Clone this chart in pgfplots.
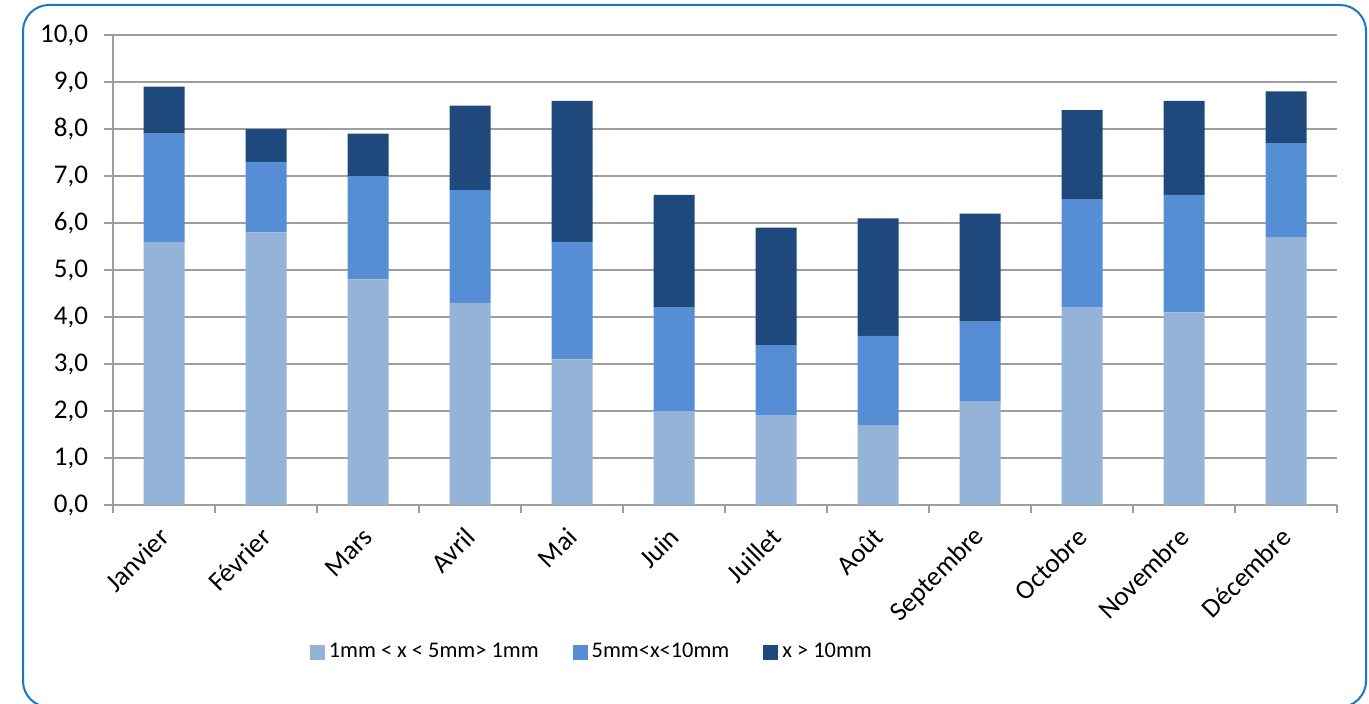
\documentclass[border=0pt]{standalone}
\usepackage{pgfplots}
\pgfplotsset{compat=1.18}
\usepackage{pgfplotstable}
\usepackage{fontspec}
\setmainfont{Carlito}
\definecolor{cA}{HTML}{95B3D7}
\definecolor{cB}{HTML}{558ED5}
\definecolor{cC}{HTML}{1F497D}
\definecolor{frame}{RGB}{25,118,200}
\definecolor{gridc}{HTML}{9E9E9E}
\pgfplotstableread{
x a b c
0 5.6 2.3 1.0
1 5.8 1.5 0.7
2 4.8 2.2 0.9
3 4.3 2.4 1.8
4 3.1 2.5 3.0
5 2.0 2.2 2.4
6 1.9 1.5 2.5
7 1.7 1.9 2.5
8 2.2 1.7 2.3
9 4.2 2.3 1.9
10 4.1 2.5 2.0
11 5.7 2.0 1.1
}\data
\begin{document}
\begin{tikzpicture}
\useasboundingbox (0,0) rectangle (684.5pt,351.5pt);
\draw[frame, line width=1pt, rounded corners=13pt] (11.5pt,-2pt) rectangle (683pt,349pt);
\begin{axis}[
  at={(56.5pt,99pt)}, anchor=south west,
  scale only axis, width=612pt, height=235pt,
  ybar stacked, bar width=20.5pt,
  xmin=-0.5, xmax=11.5, ymin=0, ymax=10,
  axis x line=bottom, axis y line=left,
  axis line style={gridc, line width=0.8pt, -},
  xtick=data,
  xticklabels={Janvier,Février,Mars,Avril,Mai,Juin,Juillet,Août,Septembre,Octobre,Novembre,Décembre},
  major x tick style={draw=none},
  minor xtick={-0.5,0.5,...,11.5},
  minor tick length=4pt,
  minor x tick style={gridc, line width=0.8pt},
  ytick={0,1,...,10},
  major tick length=4.5pt,
  tick align=outside,
  y tick style={gridc, line width=0.8pt},
  ymajorgrids, grid style={gridc, line width=0.8pt},
  xticklabel style={xshift=1pt, yshift=-8.5pt, rotate=45, anchor=east, font=\fontsize{13.5}{14}\selectfont, inner sep=1pt},
  yticklabel style={font=\fontsize{13.5}{14}\selectfont, xshift=-4.5pt},
  /pgf/number format/.cd, fixed, fixed zerofill, precision=1, use comma, assume math mode=true,
  /pgfplots/.cd,
  legend columns=3,
  legend style={at={(rel axis cs:0.392,-0.3128)}, anchor=center, draw=none, fill=none,
    font=\fontsize{11.2}{13}\selectfont,
    /tikz/every even column/.append style={column sep=15pt}},
  legend image code/.code={\fill[#1] (0pt,-3.75pt) rectangle (7.5pt,3.75pt);},
]
\addplot[fill=cA, draw=none] table[x=x,y=a]{\data};
\addplot[fill=cB, draw=none] table[x=x,y=b]{\data};
\addplot[fill=cC, draw=none] table[x=x,y=c]{\data};
\legend{1mm < x < 5mm> 1mm, 5mm<x<10mm, x > 10mm}
\end{axis}
\end{tikzpicture}
\end{document}
